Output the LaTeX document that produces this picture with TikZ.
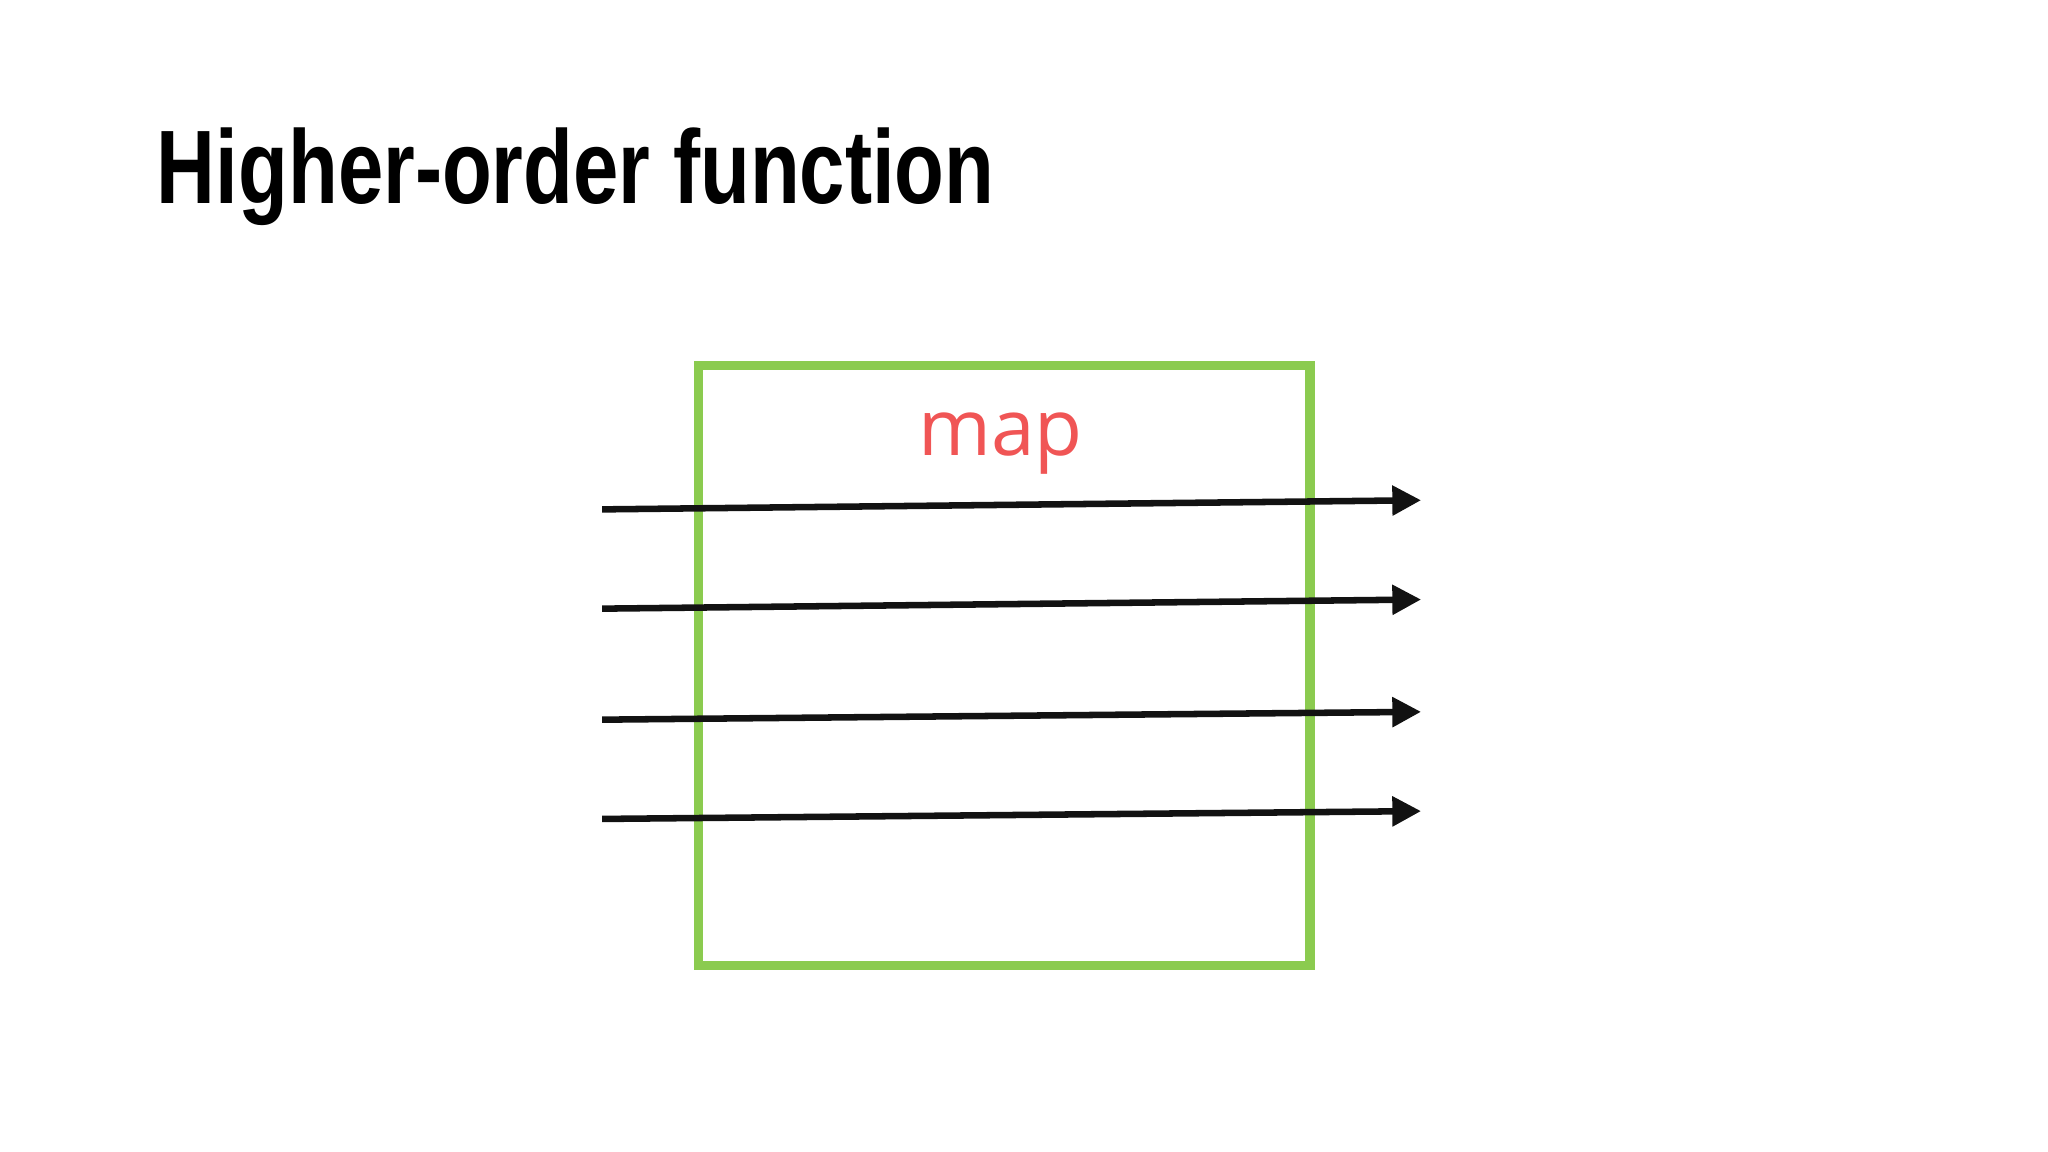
\documentclass[tikz,border=0pt]{standalone}
\usepackage{fontspec}
\setmainfont{Liberation Sans}
\newfontfamily\mapfont{Open Sans}
\usetikzlibrary{arrows.meta}
\definecolor{boxgreen}{HTML}{8BCB4F}
\definecolor{mapred}{HTML}{F05555}
\tikzset{flow/.style={line width=5pt, draw=black!93, -{Triangle[length=22pt,width=22pt]}}}
\begin{document}
\begin{tikzpicture}[x=1pt,y=-1pt]
\useasboundingbox (0,0) rectangle (1568,882);
\node[anchor=base west, inner sep=0, xscale=0.78, transform shape, font=\fontsize{80}{80}\selectfont\bfseries] (title) at (120,156) {Higher-order function};
\node[draw=boxgreen, line width=7pt, minimum width=468pt, minimum height=459pt, inner sep=0, anchor=north west] (box) at (531.5,276.5) {};
\node[anchor=base, text=mapred, font=\mapfont\fontsize{60}{60}\selectfont] (map) at (766,349) {map};
\foreach \i/\a/\b in {1/390/383, 2/466/459, 3/551/545, 4/627/621}{
  \coordinate (s\i) at (461,\a);
  \coordinate (e\i) at (1088,\b);
  \draw[flow] (s\i) -- (e\i);
}
\end{tikzpicture}
\end{document}
